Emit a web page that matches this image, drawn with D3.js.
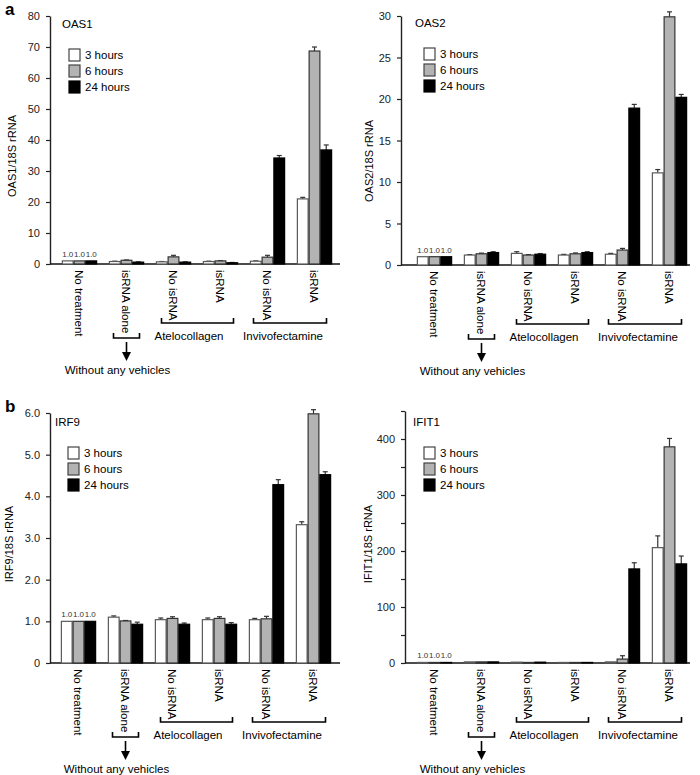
<!DOCTYPE html>
<html>
<head>
<meta charset="utf-8">
<script src="https://cdn.jsdelivr.net/npm/d3@7/dist/d3.min.js"></script>
<style>
  body { margin: 0; background: #fff; }
  svg { font-family: "Liberation Sans", Arial, Helvetica, sans-serif; }
</style>
</head>
<body>
<script>
const groups = ["No treatment", "isRNA alone", "No isRNA", "isRNA", "No isRNA", "isRNA"];
const series = ["3 hours", "6 hours", "24 hours"];

// OAS1
const oas1H3 = [1.0, 0.8, 0.7, 0.8, 0.9, 21.0];
const oas1H6 = [1.0, 1.2, 2.3, 1.0, 2.2, 68.7];
const oas1H24 = [1.0, 0.6, 0.6, 0.4, 34.2, 36.8];
const oas1ErrH3 = [0, 0.1, 0.1, 0.1, 0.1, 0.5];
const oas1ErrH6 = [0, 0.1, 0.5, 0.1, 0.6, 1.3];
const oas1ErrH24 = [0, 0.1, 0.1, 0.1, 0.8, 1.6];
const oas1Ticks = [0, 10, 20, 30, 40, 50, 60, 70, 80];

// OAS2
const oas2H3 = [1.0, 1.2, 1.4, 1.2, 1.3, 11.1];
const oas2H6 = [1.0, 1.35, 1.2, 1.35, 1.8, 29.9];
const oas2H24 = [1.0, 1.5, 1.3, 1.5, 18.9, 20.2];
const oas2ErrH3 = [0, 0.05, 0.2, 0.08, 0.1, 0.4];
const oas2ErrH6 = [0, 0.08, 0.05, 0.1, 0.2, 0.6];
const oas2ErrH24 = [0, 0.1, 0.08, 0.1, 0.45, 0.35];
const oas2Ticks = [0, 5, 10, 15, 20, 25, 30];

// IRF9
const irf9H3 = [1.0, 1.1, 1.04, 1.04, 1.04, 3.32];
const irf9H6 = [1.0, 1.01, 1.07, 1.07, 1.06, 5.98];
const irf9H24 = [1.0, 0.93, 0.93, 0.93, 4.28, 4.52];
const irf9ErrH3 = [0, 0.03, 0.04, 0.04, 0.03, 0.07];
const irf9ErrH6 = [0, 0.01, 0.04, 0.04, 0.06, 0.1];
const irf9ErrH24 = [0, 0.05, 0.03, 0.04, 0.12, 0.07];
const irf9Ticks = [0, 1, 2, 3, 4, 5, 6];

// IFIT1
const ifit1H3 = [1.0, 2, 1.5, 1, 2, 206];
const ifit1H6 = [1.0, 2, 1, 1, 7, 386];
const ifit1H24 = [1.0, 2, 1.5, 1, 168, 177];
const ifit1ErrH3 = [0, 0, 0, 0, 0, 21];
const ifit1ErrH6 = [0, 0, 0, 0, 6, 15];
const ifit1ErrH24 = [0, 0, 0, 0, 11, 14];
const ifit1Ticks = [0, 50, 100, 150, 200, 250, 300, 350, 400, 450];

const fills = ["#ffffff", "#b3b3b3", "#000000"];
const strokes = ["#5a5a5a", "#333333", "#000000"];

const panels = [
  { letter: "a", title: "OAS1", yLabel: "OAS1/18S rRNA",
    mean: [oas1H3, oas1H6, oas1H24], err: [oas1ErrH3, oas1ErrH6, oas1ErrH24],
    domain: [0, 80], ticks: oas1Ticks, fmt: d => d3.format("d")(d),
    ax: 50, axEnd: 340, y0: 264, yTop: 16, band0: 56,
    titleX: 62, titleY: 24, labX: 12, labY: 156 },
  { title: "OAS2", yLabel: "OAS2/18S rRNA",
    mean: [oas2H3, oas2H6, oas2H24], err: [oas2ErrH3, oas2ErrH6, oas2ErrH24],
    domain: [0, 30], ticks: oas2Ticks, fmt: d => d3.format("d")(d),
    ax: 401, axEnd: 690, y0: 265, yTop: 16, band0: 411,
    titleX: 415, titleY: 23, labX: 369, labY: 161 },
  { letter: "b", title: "IRF9", yLabel: "IRF9/18S rRNA",
    mean: [irf9H3, irf9H6, irf9H24], err: [irf9ErrH3, irf9ErrH6, irf9ErrH24],
    domain: [0, 6], ticks: irf9Ticks, fmt: d => d === 0 ? "0" : d3.format(".1f")(d),
    ax: 50, axEnd: 340, y0: 663, yTop: 413, band0: 55,
    titleX: 55, titleY: 422, labX: 9, labY: 544 },
  { title: "IFIT1", yLabel: "IFIT1/18S rRNA",
    mean: [ifit1H3, ifit1H6, ifit1H24], err: [ifit1ErrH3, ifit1ErrH6, ifit1ErrH24],
    domain: [0, 450], ticks: ifit1Ticks, fmt: d => (d % 100 === 0 && d < 450) ? String(d) : "",
    ax: 405, axEnd: 690, y0: 663, yTop: 411, band0: 411,
    titleX: 413, titleY: 422, labX: 368, labY: 544 }
];

const svg = d3.select("body").append("svg")
  .attr("width", 700)
  .attr("height", 775);

panels.forEach(drawPanel);

function drawPanel(p) {
  const g = svg.append("g");

  const x = d3.scaleBand().domain(d3.range(groups.length))
    .range([p.band0, p.band0 + 282]).paddingInner(0.25).paddingOuter(0.125);
  const xs = d3.scaleBand().domain(d3.range(series.length)).range([0, x.bandwidth()]);
  const y = d3.scaleLinear().domain(p.domain).range([p.y0, p.yTop]);

  if (p.letter) {
    g.append("text").attr("x", 5).attr("y", p.yTop - 1)
      .attr("font-size", 17).attr("font-weight", "bold").text(p.letter);
  }

  // Y-Axis
  const yAxis = g.append("g")
    .attr("transform", "translate(" + p.ax + ",0)")
    .call(d3.axisLeft(y).tickValues(p.ticks).tickFormat(p.fmt)
      .tickSize(4).tickSizeOuter(0).tickPadding(6));
  yAxis.selectAll("text").attr("font-size", 11).attr("fill", "#222")
    .attr("font-family", "Liberation Sans, Arial, sans-serif");
  yAxis.selectAll("line").attr("stroke", "#222").attr("stroke-width", 1.2);
  yAxis.select(".domain").attr("stroke", "#222").attr("stroke-width", 1.4);

  // X-Axis line
  g.append("line")
    .attr("x1", p.ax).attr("x2", p.axEnd)
    .attr("y1", p.y0).attr("y2", p.y0)
    .attr("stroke", "#111").attr("stroke-width", 1.6);

  g.append("text").attr("x", p.titleX).attr("y", p.titleY)
    .attr("dy", "0.35em").attr("font-size", 11.5).text(p.title);

  g.append("text")
    .attr("transform", "translate(" + p.labX + "," + p.labY + ") rotate(-90)")
    .attr("text-anchor", "middle").attr("dy", "0.35em")
    .attr("font-size", 11).text(p.yLabel);

  // Bars
  const rows = [];
  groups.forEach((gr, i) => {
    series.forEach((s, j) => {
      rows.push({ gi: i, si: j, v: p.mean[j][i], e: p.err[j][i] });
    });
  });

  const bars = g.append("g").selectAll("g").data(rows).enter().append("g");

  bars.filter(d => d.e > 0).append("line")
    .attr("x1", d => x(d.gi) + xs(d.si) + xs.bandwidth() / 2)
    .attr("x2", d => x(d.gi) + xs(d.si) + xs.bandwidth() / 2)
    .attr("y1", d => y(d.v))
    .attr("y2", d => y(d.v + d.e))
    .attr("stroke", "#333").attr("stroke-width", 1.2);
  bars.filter(d => d.e > 0).append("line")
    .attr("x1", d => x(d.gi) + xs(d.si) + xs.bandwidth() / 2 - 2.5)
    .attr("x2", d => x(d.gi) + xs(d.si) + xs.bandwidth() / 2 + 2.5)
    .attr("y1", d => y(d.v + d.e))
    .attr("y2", d => y(d.v + d.e))
    .attr("stroke", "#333").attr("stroke-width", 1.2);

  bars.append("rect")
    .attr("x", d => x(d.gi) + xs(d.si) + 0.5)
    .attr("y", d => y(d.v))
    .attr("width", xs.bandwidth() - 1)
    .attr("height", d => p.y0 - y(d.v))
    .attr("fill", d => fills[d.si])
    .attr("stroke", d => strokes[d.si])
    .attr("stroke-width", 1.2);

  // "1.0" labels over untreated bars
  g.append("g").selectAll("text").data(rows.filter(d => d.gi === 0)).enter()
    .append("text")
    .attr("x", d => x(d.gi) + xs(d.si) + xs.bandwidth() / 2)
    .attr("y", d => y(d.v) - 4)
    .attr("text-anchor", "middle").attr("font-size", 8).attr("fill", "#333")
    .text(d => d3.format(".1f")(d.v));

  // Legend
  const leg = g.append("g").selectAll("g").data(series).enter().append("g")
    .attr("transform", (d, i) => "translate(" + (p.band0 + 13) + "," + (p.titleY + 31 + i * 16) + ")");
  leg.append("rect").attr("x", 0).attr("y", -6).attr("width", 11).attr("height", 12)
    .attr("fill", (d, i) => fills[i]).attr("stroke", (d, i) => i === 2 ? "#000" : "#444")
    .attr("stroke-width", 1.2);
  leg.append("text").attr("x", 16).attr("dy", "0.35em")
    .attr("font-size", 11.5).text(d => d);

  // Category labels
  const cx = i => x(i) + x.bandwidth() / 2;
  g.append("g").selectAll("text").data(groups).enter().append("text")
    .attr("transform", (d, i) => "translate(" + cx(i) + "," + (p.y0 + 6) + ") rotate(90)")
    .attr("dy", "0.35em").attr("font-size", 11.5).text(d => d);

  // Brackets
  function bracket(xa, xb, yy) {
    g.append("path")
      .attr("d", "M" + xa + "," + (yy - 5) + "V" + yy + "H" + xb + "V" + (yy - 5))
      .attr("fill", "none").attr("stroke", "#000").attr("stroke-width", 1.6);
  }
  bracket(cx(1) - 13, cx(1) + 13, p.y0 + 74);
  bracket(cx(2) - 12, cx(3) + 13, p.y0 + 59);
  bracket(cx(4) - 14, cx(5) + 12, p.y0 + 59);

  g.append("text").attr("x", (cx(2) + cx(3)) / 2 - 8).attr("y", p.y0 + 72)
    .attr("dy", "0.35em").attr("text-anchor", "middle").attr("font-size", 11.5)
    .text("Atelocollagen");
  g.append("text").attr("x", (cx(4) + cx(5)) / 2 - 8).attr("y", p.y0 + 72)
    .attr("dy", "0.35em").attr("text-anchor", "middle").attr("font-size", 11.5)
    .text("Invivofectamine");

  // Arrow
  g.append("line").attr("x1", cx(1)).attr("x2", cx(1))
    .attr("y1", p.y0 + 78).attr("y2", p.y0 + 90)
    .attr("stroke", "#000").attr("stroke-width", 1.6);
  g.append("path")
    .attr("d", "M" + (cx(1) - 4.5) + "," + (p.y0 + 88) + "L" + (cx(1) + 4.5) + "," + (p.y0 + 88) +
      "L" + cx(1) + "," + (p.y0 + 97) + "Z")
    .attr("fill", "#000");
  g.append("text").attr("x", cx(1) - 9).attr("y", p.y0 + 106)
    .attr("dy", "0.35em").attr("text-anchor", "middle").attr("font-size", 11.5)
    .text("Without any vehicles");
}
</script>
</body>
</html>
